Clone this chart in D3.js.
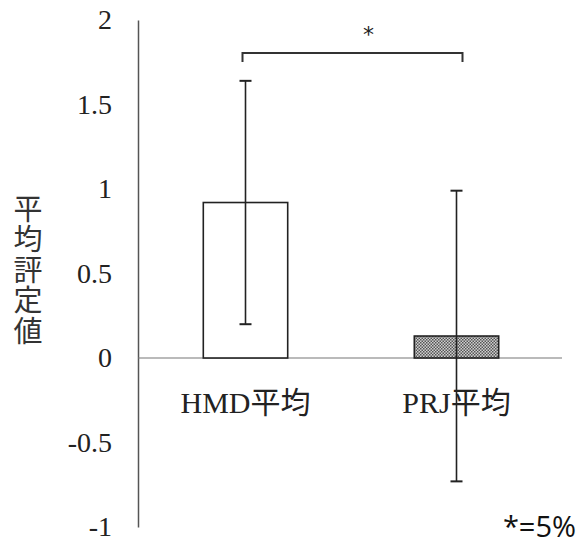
<!DOCTYPE html>
<html>
  <head>
    <meta charset="utf-8">
    <script src="https://d3js.org/d3.v7.min.js"></script>
    <style>
      body { margin: 0; background: #fff; }
      .cat-label {
        font-size: 30px;
        font-family: "Liberation Serif", "Noto Sans CJK JP", serif;
        fill: #222;
      }
    </style>
  </head>
  <body>
    <svg width="580" height="547"></svg>
    <script>
      // data
      const categories = ['HMD平均', 'PRJ平均'];
      const means = [0.92, 0.13];
      const errors = [0.72, 0.86];
      const yTicks = [-1, -0.5, 0, 0.5, 1, 1.5, 2];
      const yTitle = '平均評定値';

      const svg = d3.select('svg');

      const yScale = d3.scaleLinear().domain([-1, 2]).range([527, 20]);
      const xScale = d3.scaleBand()
        .domain(categories)
        .range([140, 562])
        .paddingInner(0.6)
        .paddingOuter(0.3);

      // pattern for the second bar
      const defs = svg.append('defs');
      const pat = defs.append('pattern')
        .attr('id', 'checks')
        .attr('width', 3).attr('height', 3)
        .attr('patternUnits', 'userSpaceOnUse');
      pat.append('rect').attr('width', 3).attr('height', 3).attr('fill', '#d0d0d0');
      pat.append('rect').attr('width', 1.5).attr('height', 1.5).attr('fill', '#555');
      pat.append('rect').attr('x', 1.5).attr('y', 1.5).attr('width', 1.5).attr('height', 1.5).attr('fill', '#555');

      // y axis
      const yAxis = d3.axisLeft(yScale)
        .tickValues(yTicks)
        .tickSize(0)
        .tickPadding(26)
        .tickFormat(d => d < 0 ? '-' + Math.abs(d) : d);
      const yAxisG = svg.append('g')
        .attr('transform', 'translate(138,0)')
        .call(yAxis);
      yAxisG.select('.domain').attr('stroke', '#555').attr('stroke-width', 1.5);
      yAxisG.attr('font-family', null).attr('font-size', null);
      yAxisG.selectAll('.tick text')
        .attr('font-family', '"Liberation Serif", serif')
        .attr('font-size', 28)
        .attr('fill', '#222');

      // zero line
      svg.append('line')
        .attr('x1', 138).attr('x2', 562)
        .attr('y1', yScale(0)).attr('y2', yScale(0))
        .attr('stroke', '#777').attr('stroke-width', 1.2);

      // bars
      svg.selectAll('rect.bar').data(categories)
        .enter().append('rect')
          .attr('class', 'bar')
          .attr('x', d => xScale(d))
          .attr('width', xScale.bandwidth())
          .attr('y', (d, i) => yScale(Math.max(0, means[i])))
          .attr('height', (d, i) => Math.abs(yScale(means[i]) - yScale(0)))
          .attr('fill', (d, i) => i === 0 ? '#fff' : 'url(#checks)')
          .attr('stroke', '#222')
          .attr('stroke-width', 1.6);

      // error bars
      const eb = svg.selectAll('g.err').data(categories)
        .enter().append('g')
          .attr('class', 'err')
          .attr('transform', d => `translate(${xScale(d) + xScale.bandwidth() / 2},0)`);
      eb.append('line')
        .attr('y1', (d, i) => yScale(means[i] + errors[i]))
        .attr('y2', (d, i) => yScale(means[i] - errors[i]))
        .attr('stroke', '#222').attr('stroke-width', 1.6);
      [1, -1].forEach(s => {
        eb.append('line')
          .attr('x1', -6).attr('x2', 6)
          .attr('y1', (d, i) => yScale(means[i] + s * errors[i]))
          .attr('y2', (d, i) => yScale(means[i] + s * errors[i]))
          .attr('stroke', '#222').attr('stroke-width', 2);
      });

      // category labels
      svg.selectAll('text.cat-label').data(categories)
        .enter().append('text')
          .attr('class', 'cat-label')
          .attr('x', d => xScale(d) + xScale.bandwidth() / 2)
          .attr('y', yScale(0) + 55)
          .attr('text-anchor', 'middle')
          .text(d => d);

      // significance bracket
      const bx1 = xScale(categories[0]) + xScale.bandwidth() / 2 - 3;
      const bx2 = xScale(categories[1]) + xScale.bandwidth() / 2 + 6;
      svg.append('path')
        .attr('d', `M${bx1},62 V53 H${bx2} V62`)
        .attr('fill', 'none')
        .attr('stroke', '#333').attr('stroke-width', 2);
      svg.append('text')
        .attr('x', (bx1 + bx2) / 2 + 16).attr('y', 42)
        .attr('text-anchor', 'middle')
        .attr('font-family', '"DejaVu Sans", sans-serif')
        .attr('font-size', 22)
        .attr('fill', '#222')
        .text('*');

      // y title, written vertically
      svg.append('text')
        .attr('x', 28)
        .attr('y', 194)
        .attr('writing-mode', 'vertical-rl')
        .attr('font-family', '"Noto Sans CJK JP", sans-serif')
        .attr('font-size', 29)
        .attr('letter-spacing', 1.5)
        .attr('fill', '#333')
        .text(yTitle);

      // note
      svg.append('text')
        .attr('x', 576).attr('y', 537)
        .attr('text-anchor', 'end')
        .attr('font-family', '"Open Sans", "Noto Sans", sans-serif')
        .attr('font-size', 29)
        .attr('fill', '#111')
        .text('*=5%');
    </script>
  </body>
</html>
